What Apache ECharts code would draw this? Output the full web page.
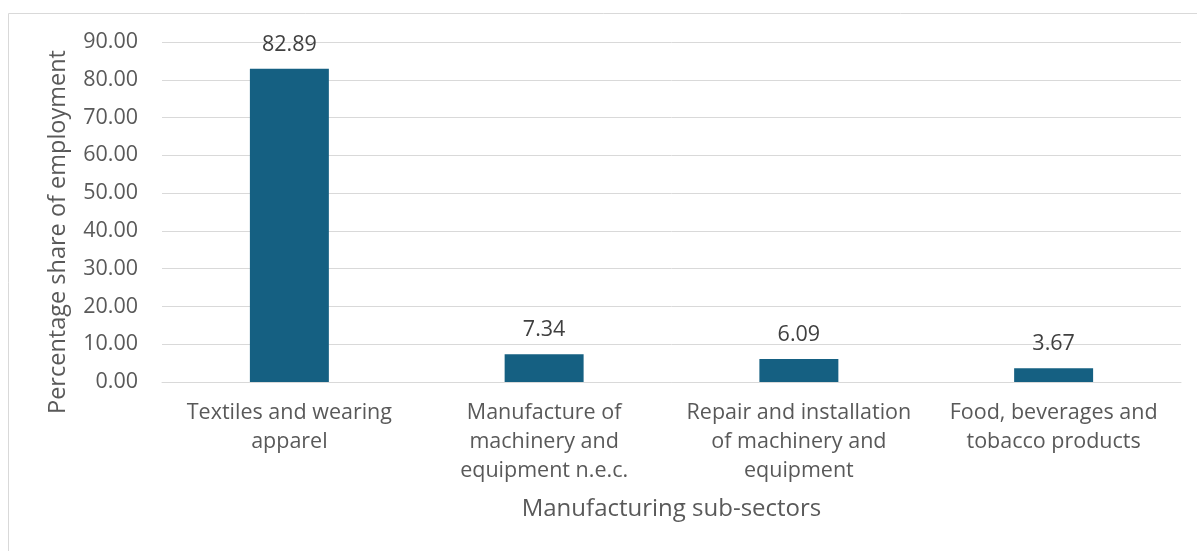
<!DOCTYPE html>
<html><head><meta charset="utf-8">
<script src="https://cdn.jsdelivr.net/npm/echarts@6/dist/echarts.min.js"></script>
<style>html,body{margin:0;padding:0;background:#fff}#c{width:1197px;height:551px}</style>
</head><body><div id="c"></div>
<script>
const categories = ["Textiles and wearing\napparel", "Manufacture of\nmachinery and\nequipment n.e.c.", "Repair and installation\nof machinery and\nequipment", "Food, beverages and\ntobacco products"];
const values = [82.89, 7.34, 6.09, 3.67];
const xAxisTitle = "Manufacturing sub-sectors";
const yAxisTitle = "Percentage share of employment";
const FONT = "Open Sans";
const TXT = "#595959";
const chart = echarts.init(document.getElementById('c'), null, {renderer: 'canvas'});
chart.setOption({
  animation: false,
  textStyle: {fontFamily: FONT},
  graphic: [{type: 'rect', shape: {x: 8.5, y: 13.5, width: 1300, height: 600}, style: {fill: 'none', stroke: '#d9d9d9', lineWidth: 1}, silent: true}],
  grid: {left: 162, right: 16, top: 42, bottom: 169, containLabel: false},
  xAxis: {
    type: 'category', data: categories,
    axisLine: {show: true, lineStyle: {color: '#d9d9d9', width: 1}},
    axisTick: {show: false},
    axisLabel: {color: TXT, fontSize: 21.5, fontFamily: FONT, lineHeight: 29, margin: 16, interval: 0},
    name: xAxisTitle, nameLocation: 'middle', nameGap: 115,
    nameTextStyle: {color: TXT, fontSize: 24, fontFamily: FONT}
  },
  yAxis: {
    type: 'value', min: 0, max: 90, interval: 10,
    axisLine: {show: false}, axisTick: {show: false},
    splitLine: {lineStyle: {color: '#d9d9d9', width: 1}},
    axisLabel: {color: TXT, fontSize: 21.5, fontFamily: FONT, margin: 24, formatter: v => v.toFixed(2)},
    name: yAxisTitle, nameLocation: 'middle', nameGap: 92, nameRotate: 90,
    nameTextStyle: {color: TXT, fontSize: 23.5, fontFamily: FONT, padding: [0, 40, 0, 0]}
  },
  series: [{
    type: 'bar', data: values, barWidth: '31%',
    itemStyle: {color: '#156082'},
    label: {show: true, position: 'top', distance: 13, color: '#404040', fontSize: 21.5, fontFamily: FONT, formatter: p => p.value.toFixed(2)}
  }]
});
</script></body></html>
